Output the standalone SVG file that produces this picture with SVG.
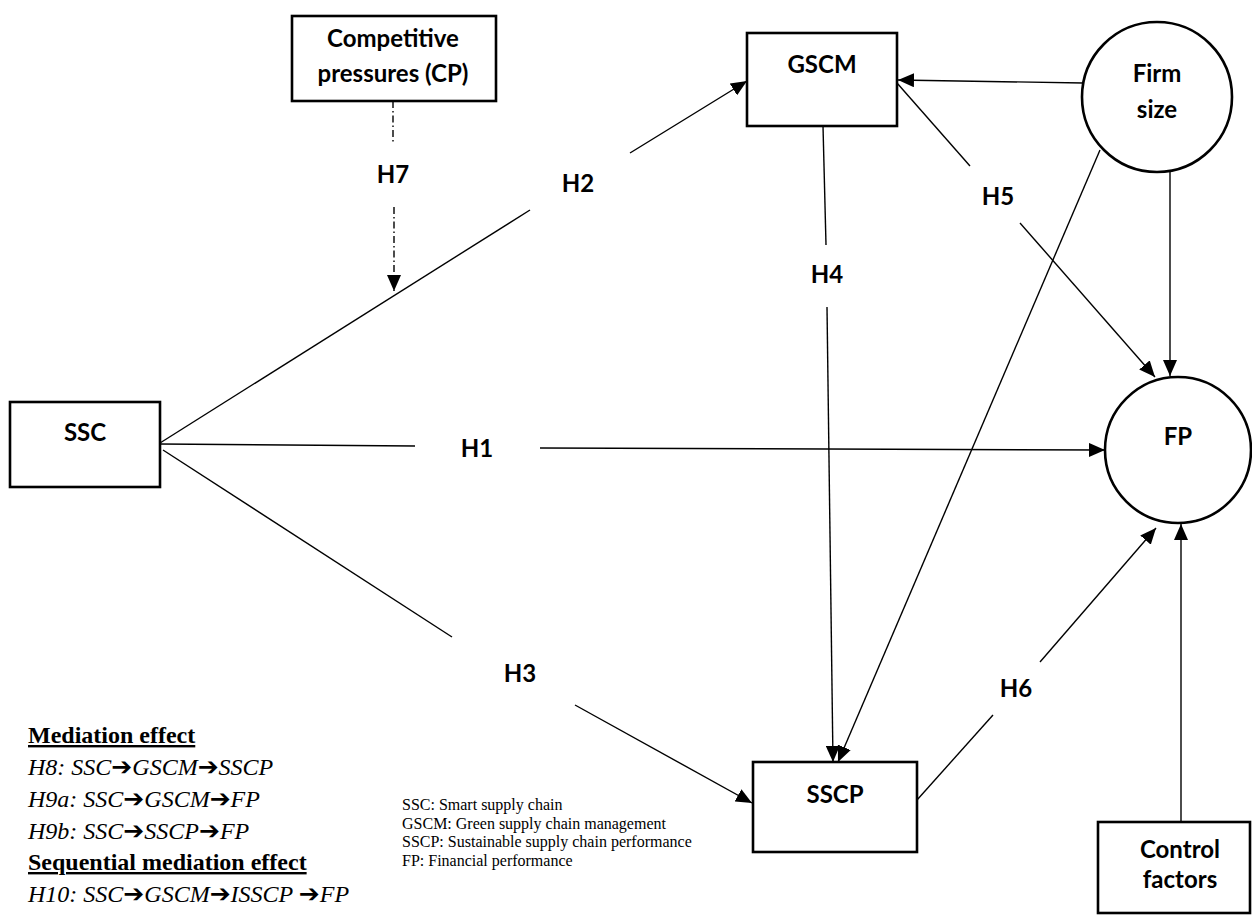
<svg xmlns="http://www.w3.org/2000/svg" width="1252" height="915" viewBox="0 0 1252 915">
<style>
.box{fill:#fff;stroke:#000;stroke-width:2.6}
.lbl{font-family:Lato,"Open Sans",sans-serif;font-weight:bold;font-size:24px;text-anchor:middle;fill:#000}
.c{stroke:#000;stroke-width:1.4;fill:none}
.dd{stroke:#000;stroke-width:1.4;fill:none;stroke-dasharray:7,3,1.5,3}
.leg{font-family:"Liberation Serif","Times New Roman",serif;font-size:24px;font-style:italic;fill:#000}
.legb{font-family:"Liberation Serif","Times New Roman",serif;font-size:24px;font-weight:bold;text-decoration:underline;fill:#000}
.ar{font-family:"DejaVu Sans",sans-serif;font-style:normal;font-size:25px}
.abbr{font-family:"Liberation Serif","Times New Roman",serif;font-size:16px;fill:#000}
</style>
<defs>
<marker id="ah" viewBox="0 0 16 14" refX="16" refY="7" markerWidth="16" markerHeight="14" markerUnits="userSpaceOnUse" orient="auto">
<path d="M0,0 L16,7 L0,14 z" fill="#000"/>
</marker>
</defs>
<rect width="1252" height="915" fill="#fff"/>
<g id="connectors">
<line class="c" x1="160" y1="443" x2="530" y2="210"/>
<line class="c" x1="630" y1="153" x2="747" y2="81" marker-end="url(#ah)"/>
<line class="c" x1="160" y1="444" x2="415" y2="446"/>
<line class="c" x1="540" y1="448" x2="1105" y2="450" marker-end="url(#ah)"/>
<line class="c" x1="163" y1="450" x2="452" y2="637"/>
<line class="c" x1="575" y1="705" x2="752" y2="803" marker-end="url(#ah)"/>
<line class="dd" x1="393" y1="101" x2="393" y2="143"/>
<line class="dd" x1="394" y1="207" x2="394" y2="291" marker-end="url(#ah)"/>
<line class="c" x1="823" y1="126" x2="826" y2="245"/>
<line class="c" x1="827" y1="307" x2="833" y2="762" marker-end="url(#ah)"/>
<line class="c" x1="1100" y1="150" x2="838" y2="762" marker-end="url(#ah)"/>
<line class="c" x1="1083" y1="83" x2="898" y2="80" marker-end="url(#ah)"/>
<line class="c" x1="897" y1="83" x2="970" y2="166"/>
<line class="c" x1="1020" y1="223" x2="1155" y2="377" marker-end="url(#ah)"/>
<line class="c" x1="1170" y1="172" x2="1170" y2="376" marker-end="url(#ah)"/>
<line class="c" x1="917" y1="800" x2="993" y2="715"/>
<line class="c" x1="1040" y1="662" x2="1156" y2="528" marker-end="url(#ah)"/>
<line class="c" x1="1181" y1="822" x2="1181" y2="524" marker-end="url(#ah)"/>
<text class="lbl" x="578" y="192">H2</text>
<text class="lbl" x="477" y="457">H1</text>
<text class="lbl" x="520" y="682">H3</text>
<text class="lbl" x="393" y="183">H7</text>
<text class="lbl" x="827" y="283">H4</text>
<text class="lbl" x="998" y="205">H5</text>
<text class="lbl" x="1016" y="697">H6</text>
</g>
<g id="cp">
<rect class="box" x="292" y="16" width="204" height="85"/>
<text class="lbl" x="393" y="47">Competitive</text>
<text class="lbl" x="393" y="82">pressures (CP)</text>
</g>
<g id="gscm">
<rect class="box" x="747" y="33" width="150" height="93"/>
<text class="lbl" x="822" y="73">GSCM</text>
</g>
<g id="firmsize">
<circle class="box" cx="1157" cy="97" r="75"/>
<text class="lbl" x="1157" y="82">Firm</text>
<text class="lbl" x="1157" y="118">size</text>
</g>
<g id="ssc">
<rect class="box" x="10" y="402" width="150" height="85"/>
<text class="lbl" x="85" y="441">SSC</text>
</g>
<g id="fp">
<circle class="box" cx="1178" cy="450" r="73"/>
<text class="lbl" x="1178" y="445">FP</text>
</g>
<g id="sscp">
<rect class="box" x="753" y="762" width="164" height="90"/>
<text class="lbl" x="835" y="803">SSCP</text>
</g>
<g id="control">
<rect class="box" x="1098" y="822" width="152" height="91"/>
<text class="lbl" x="1180" y="858">Control</text>
<text class="lbl" x="1180" y="888">factors</text>
</g>
<g id="legend">
<text class="legb" x="28" y="743">Mediation effect </text>
<text class="leg" x="28" y="775">H8: SSC<tspan class="ar">➔</tspan>GSCM<tspan class="ar">➔</tspan>SSCP</text>
<text class="leg" x="28" y="807">H9a: SSC<tspan class="ar">➔</tspan>GSCM<tspan class="ar">➔</tspan>FP</text>
<text class="leg" x="28" y="839">H9b: SSC<tspan class="ar">➔</tspan>SSCP<tspan class="ar">➔</tspan>FP</text>
<text class="legb" x="28" y="870">Sequential mediation effect</text>
<text class="leg" x="28" y="902">H10: SSC<tspan class="ar">➔</tspan>GSCM<tspan class="ar">➔</tspan>ISSCP <tspan class="ar">➔</tspan>FP</text>
</g>
<g id="abbreviations">
<text class="abbr" x="402" y="810">SSC: Smart supply chain</text>
<text class="abbr" x="402" y="828.5">GSCM: Green supply chain management</text>
<text class="abbr" x="402" y="847">SSCP: Sustainable supply chain performance</text>
<text class="abbr" x="402" y="865.5">FP: Financial performance</text>
</g>
</svg>
